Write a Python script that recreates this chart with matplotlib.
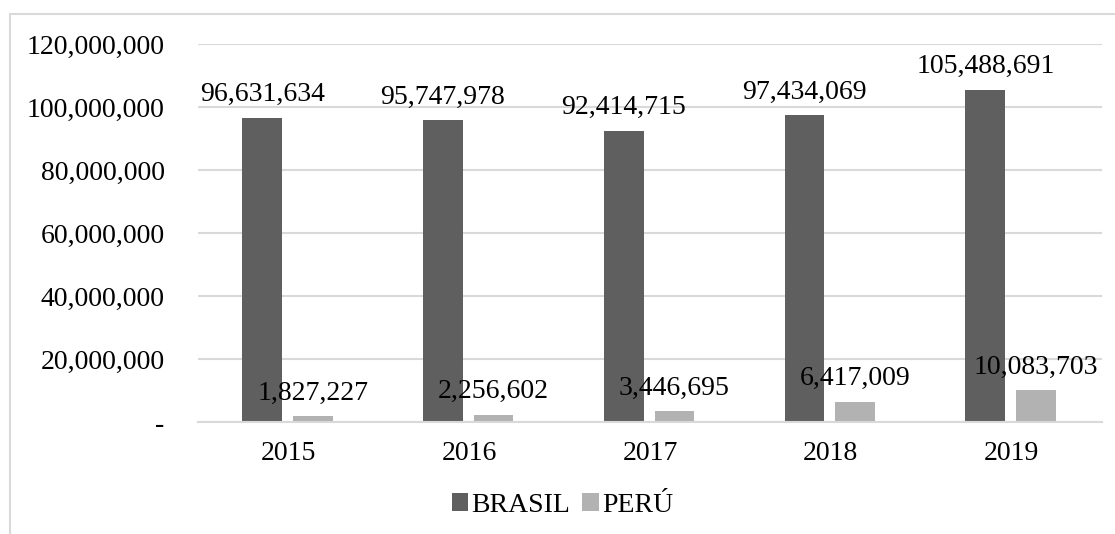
import matplotlib.pyplot as plt
import numpy as np
from matplotlib.patches import Rectangle
from matplotlib.ticker import FuncFormatter

plt.rcParams['font.family'] = ['Liberation Serif', 'DejaVu Serif']

years = ['2015', '2016', '2017', '2018', '2019']
brasil = [96631634, 95747978, 92414715, 97434069, 105488691]
peru = [1827227, 2256602, 3446695, 6417009, 10083703]

fig = plt.figure(figsize=(11.15, 5.34), dpi=100)
ax = fig.add_axes([0.1776, 0.2097, 0.8107, 0.7079])

x = np.arange(len(years))
w = 0.22
b1 = ax.bar(x - 0.145, brasil, w, color='#5f5f5f', label='BRASIL')
b2 = ax.bar(x + 0.135, peru, w, color='#b2b2b2', label='PERÚ')

for bars in (b1, b2):
    for r in bars:
        v = r.get_height()
        ax.annotate(f'{v:,.0f}', (r.get_x() + r.get_width() / 2, v),
                    xytext=(0, 12), textcoords='offset points',
                    ha='center', va='baseline', fontsize=20)

ax.set_xlim(-0.5, len(years) - 0.5)
ax.set_ylim(0, 120000000)
ax.set_yticks(np.arange(0, 120000001, 20000000))
ax.yaxis.set_major_formatter(FuncFormatter(lambda v, p: '-' if v == 0 else f'{v:,.0f}'))
ax.set_xticks(x)
ax.set_xticklabels(years)
ax.tick_params(axis='both', length=0, labelsize=20)
ax.tick_params(axis='y', pad=24)
ax.tick_params(axis='x', pad=14)
ax.grid(axis='y', color='#d9d9d9', linewidth=1.5)
ax.set_axisbelow(True)
for s in ('top', 'right', 'left'):
    ax.spines[s].set_visible(False)
ax.spines['bottom'].set_color('#d9d9d9')
ax.spines['bottom'].set_linewidth(1.5)

ax.legend(loc='center', bbox_to_anchor=(0.403, -0.22), ncol=2, frameon=False,
          fontsize=20, handlelength=0.6, handleheight=0.6, handletextpad=0.1,
          columnspacing=0.45)

# outer chart frame
fig.patches.append(Rectangle((10 / 1115, -0.2), 1.2, 1.2 - 14 / 534,
                             transform=fig.transFigure, fill=False,
                             edgecolor='#d9d9d9', linewidth=1.5))

fig.savefig('out.png', dpi=100)
